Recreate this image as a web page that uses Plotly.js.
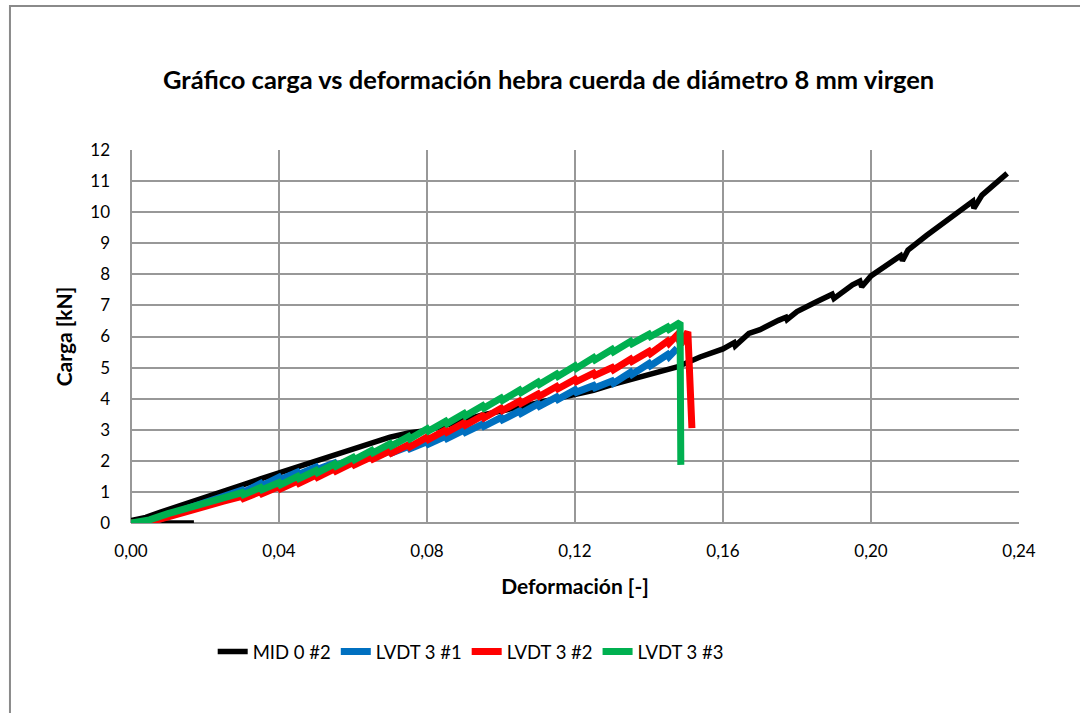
<!DOCTYPE html>
<html>
<head>
<meta charset="utf-8">
<script src="https://cdn.plot.ly/plotly-3.0.1.min.js"></script>
<style>html,body{margin:0;padding:0;background:#fff;}#chart{width:1080px;height:713px;}</style>
</head>
<body>
<div id="chart"></div>
<script>
// Series names
const seriesNames = ["MID 0 #2", "LVDT 3 #1", "LVDT 3 #2", "LVDT 3 #3"];
const seriesColors = ["#000000", "#0070C0", "#FF0000", "#00B050"];

// MID 0 #2 (black)
const xMid = [0.017, 0.007, 0.000, 0.004, 0.008, 0.012, 0.016, 0.020, 0.025, 0.030, 0.035, 0.040, 0.045, 0.050, 0.055, 0.060, 0.065, 0.070, 0.075, 0.080, 0.085, 0.090, 0.095, 0.100, 0.105, 0.110, 0.115, 0.120, 0.125, 0.130, 0.135, 0.140, 0.145, 0.1476, 0.1538, 0.160, 0.1630, 0.1633, 0.167, 0.170, 0.175, 0.1770, 0.1773, 0.180, 0.185, 0.1895, 0.1900, 0.195, 0.1970, 0.1975, 0.200, 0.205, 0.2080, 0.2085, 0.210, 0.215, 0.220, 0.225, 0.2275, 0.2278, 0.230, 0.2368];
const yMid = [0.00, 0.00, 0.08, 0.18, 0.35, 0.50, 0.66, 0.82, 1.02, 1.22, 1.42, 1.61, 1.80, 2.00, 2.20, 2.39, 2.58, 2.76, 2.90, 2.98, 3.14, 3.32, 3.48, 3.60, 3.73, 3.85, 3.97, 4.10, 4.27, 4.45, 4.60, 4.76, 4.92, 5.02, 5.34, 5.60, 5.80, 5.70, 6.10, 6.22, 6.52, 6.62, 6.54, 6.80, 7.10, 7.36, 7.22, 7.66, 7.78, 7.60, 7.95, 8.35, 8.60, 8.44, 8.78, 9.25, 9.70, 10.12, 10.35, 10.12, 10.55, 11.25];

// LVDT 3 #1 (blue)
const xL1 = [0.005, 0.010, 0.015, 0.020, 0.025, 0.030, 0.0304, 0.035, 0.0354, 0.040, 0.0404, 0.045, 0.0454, 0.050, 0.0504, 0.055, 0.0554, 0.060, 0.0604, 0.065, 0.0654, 0.070, 0.0704, 0.075, 0.0754, 0.080, 0.0804, 0.085, 0.0854, 0.090, 0.0904, 0.095, 0.0954, 0.100, 0.1004, 0.105, 0.1054, 0.110, 0.1104, 0.115, 0.1154, 0.120, 0.1204, 0.125, 0.1254, 0.130, 0.1304, 0.135, 0.1354, 0.140, 0.1404, 0.145, 0.1454, 0.1476];
const yL1 = [0.00, 0.25, 0.46, 0.66, 0.86, 1.06, 0.99, 1.27, 1.20, 1.47, 1.40, 1.64, 1.57, 1.80, 1.73, 1.93, 1.86, 2.05, 1.98, 2.18, 2.11, 2.32, 2.25, 2.46, 2.39, 2.61, 2.54, 2.79, 2.72, 2.99, 2.92, 3.18, 3.11, 3.39, 3.32, 3.60, 3.53, 3.83, 3.76, 4.05, 3.98, 4.28, 4.21, 4.42, 4.35, 4.57, 4.50, 4.85, 4.78, 5.13, 5.06, 5.42, 5.35, 5.62];

// LVDT 3 #2 (red)
const xL2 = [0.000, 0.005, 0.010, 0.015, 0.020, 0.025, 0.030, 0.0304, 0.035, 0.0354, 0.040, 0.0404, 0.045, 0.0454, 0.050, 0.0504, 0.055, 0.0554, 0.060, 0.0604, 0.065, 0.0654, 0.070, 0.0704, 0.075, 0.0754, 0.080, 0.0804, 0.085, 0.0854, 0.090, 0.0904, 0.095, 0.0954, 0.100, 0.1004, 0.105, 0.1054, 0.110, 0.1104, 0.115, 0.1154, 0.120, 0.1204, 0.125, 0.1254, 0.130, 0.1304, 0.135, 0.1354, 0.140, 0.1404, 0.145, 0.1454, 0.1476, 0.1486, 0.1505, 0.1516];
const yL2 = [0.00, 0.03, 0.20, 0.38, 0.55, 0.70, 0.86, 0.79, 1.01, 0.94, 1.17, 1.10, 1.35, 1.28, 1.54, 1.47, 1.74, 1.67, 1.94, 1.87, 2.13, 2.06, 2.32, 2.25, 2.52, 2.45, 2.76, 2.69, 2.99, 2.92, 3.22, 3.15, 3.45, 3.38, 3.69, 3.62, 3.92, 3.85, 4.15, 4.08, 4.39, 4.32, 4.62, 4.55, 4.82, 4.75, 5.00, 4.93, 5.27, 5.20, 5.52, 5.45, 5.85, 5.78, 6.05, 5.75, 6.15, 3.05];

// LVDT 3 #3 (green)
const xL3 = [0.000, 0.005, 0.010, 0.015, 0.020, 0.025, 0.030, 0.0304, 0.035, 0.0354, 0.040, 0.0404, 0.045, 0.0454, 0.050, 0.0504, 0.055, 0.0554, 0.060, 0.0604, 0.065, 0.0654, 0.070, 0.0704, 0.075, 0.0754, 0.080, 0.0804, 0.085, 0.0854, 0.090, 0.0904, 0.095, 0.0954, 0.100, 0.1004, 0.105, 0.1054, 0.110, 0.1104, 0.115, 0.1154, 0.120, 0.1204, 0.125, 0.1254, 0.130, 0.1304, 0.135, 0.1354, 0.140, 0.1404, 0.145, 0.1454, 0.1484, 0.1486];
const yL3 = [0.00, 0.10, 0.30, 0.47, 0.65, 0.82, 0.98, 0.91, 1.14, 1.07, 1.30, 1.23, 1.50, 1.43, 1.69, 1.62, 1.90, 1.83, 2.11, 2.04, 2.33, 2.26, 2.55, 2.48, 2.78, 2.71, 3.03, 2.96, 3.27, 3.20, 3.52, 3.45, 3.77, 3.70, 4.02, 3.95, 4.27, 4.20, 4.53, 4.46, 4.79, 4.72, 5.05, 4.98, 5.32, 5.25, 5.58, 5.51, 5.84, 5.77, 6.07, 6.00, 6.30, 6.23, 6.45, 1.87];

// Axis ticks
const xTicks = [0, 0.04, 0.08, 0.12, 0.16, 0.20, 0.24];
const yTicks = [0, 1, 2, 3, 4, 5, 6, 7, 8, 9, 10, 11, 12];

const xs = [xMid, xL1, xL2, xL3];
const ys = [yMid, yL1, yL2, yL3];
const widths = [5.5, 7, 7, 7];

const FONT = "Lato, 'Open Sans', sans-serif";

const traces = seriesNames.map((n, i) => ({
  type: "scatter",
  mode: "lines",
  name: n,
  x: xs[i],
  y: ys[i],
  line: {color: seriesColors[i], width: widths[i], shape: "linear"},
  hoverinfo: "skip"
}));

const layout = {
  width: 1080,
  height: 713,
  paper_bgcolor: "#ffffff",
  plot_bgcolor: "#ffffff",
  separators: ",.",
  margin: {l: 131, r: 61, t: 150, b: 190, pad: 0},
  font: {family: FONT, size: 17, color: "#000000"},
  title: {
    text: "<b>Gráfico carga vs deformación hebra cuerda de diámetro 8 mm virgen</b>",
    font: {family: FONT, size: 25.5, color: "#000000"},
    x: 0.508, xanchor: "center",
    y: 0.888, yanchor: "middle"
  },
  xaxis: {
    range: [0, 0.24],
    tickvals: xTicks,
    tickformat: ".2f",
    showgrid: true,
    gridcolor: "#989898",
    gridwidth: 2,
    zeroline: false,
    showline: false,
    ticks: "",
    ticklabelstandoff: 16,
    tickfont: {family: FONT, size: 17, color: "#000"},
    title: {text: "<b>Deformación [-]</b>", font: {family: FONT, size: 21, color: "#000"}, standoff: 19},
    fixedrange: true
  },
  yaxis: {
    range: [0, 12],
    tickvals: yTicks,
    showgrid: true,
    gridcolor: "#989898",
    gridwidth: 2,
    zeroline: false,
    showline: false,
    ticks: "",
    ticklabelstandoff: 20,
    tickfont: {family: FONT, size: 17, color: "#000"},
    title: {text: "<b>Carga [kN]</b>", font: {family: FONT, size: 21, color: "#000"}, standoff: 11},
    fixedrange: true
  },
  showlegend: true,
  legend: {
    orientation: "h",
    x: 0.092, xanchor: "left",
    y: -0.346, yanchor: "middle",
    font: {family: FONT, size: 18.5, color: "#000"},
    itemwidth: 30,
    tracegroupgap: 0,
    bgcolor: "rgba(0,0,0,0)"
  },
  shapes: [
    {type: "rect", xref: "paper", yref: "paper", x0: -0.1363, x1: 1.2, y0: -0.6, y1: 1.386,
     line: {color: "#8a8a8a", width: 2}, fillcolor: "rgba(0,0,0,0)", layer: "below"},
    {type: "line", xref: "paper", yref: "paper", x0: 0, x1: 1, y0: 0, y1: 0,
     line: {color: "#989898", width: 2}, layer: "below"},
    {type: "line", xref: "paper", yref: "paper", x0: 0, x1: 0, y0: 0, y1: 1,
     line: {color: "#989898", width: 2}, layer: "below"}
  ]
};

Plotly.newPlot("chart", traces, layout, {staticPlot: true, displayModeBar: false});
</script>
</body>
</html>
